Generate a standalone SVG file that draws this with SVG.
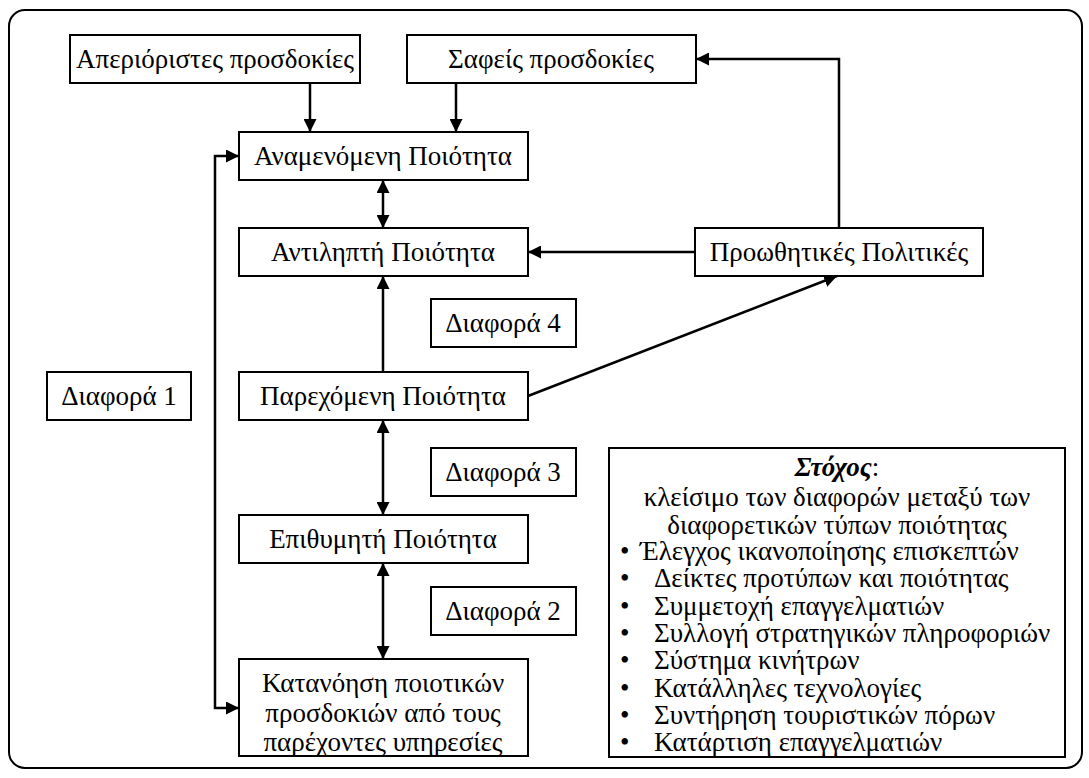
<svg xmlns="http://www.w3.org/2000/svg" width="1089" height="778" viewBox="0 0 1089 778">
<defs>
<marker id="ah" viewBox="0 0 13 13" refX="13" refY="6.5" markerWidth="13" markerHeight="13" markerUnits="userSpaceOnUse" orient="auto-start-reverse">
<path d="M0,0 L13,6.5 L0,13 z" fill="#000"/>
</marker>
<style>
.b{fill:#fff;stroke:#000;stroke-width:2}
.t{font-family:"Liberation Serif","Times New Roman",serif;font-size:27px;fill:#000;text-anchor:middle}
.l{font-family:"Liberation Serif","Times New Roman",serif;font-size:27px;fill:#000}
.c{fill:none;stroke:#000;stroke-width:2.5}
</style>
</defs>
<rect x="0" y="0" width="1089" height="778" fill="#fff"/>
<rect x="9" y="10" width="1073" height="758" rx="16" ry="16" fill="none" stroke="#000" stroke-width="2"/>
<g id="connectors">
<line class="c" x1="310" y1="83" x2="310" y2="132" marker-end="url(#ah)"/>
<line class="c" x1="456" y1="83" x2="456" y2="132" marker-end="url(#ah)"/>
<line class="c" x1="383" y1="180" x2="383" y2="228" marker-start="url(#ah)" marker-end="url(#ah)"/>
<line class="c" x1="383" y1="372" x2="383" y2="276" marker-end="url(#ah)"/>
<line class="c" x1="383" y1="420" x2="383" y2="515" marker-start="url(#ah)" marker-end="url(#ah)"/>
<line class="c" x1="383" y1="563" x2="383" y2="659" marker-start="url(#ah)" marker-end="url(#ah)"/>
<path class="c" d="M239,156 H215 V708 H239" marker-start="url(#ah)" marker-end="url(#ah)"/>
<line class="c" x1="695" y1="252" x2="528" y2="252" marker-end="url(#ah)"/>
<path class="c" d="M839,228 V59 H696" marker-end="url(#ah)"/>
<line class="c" x1="528" y1="396" x2="837" y2="276" marker-end="url(#ah)"/>
</g>
<g id="n-aperioristes"><rect class="b" x="70" y="35" width="290" height="48"/><text class="t" x="215" y="68">Απεριόριστες προσδοκίες</text></g>
<g id="n-safeis"><rect class="b" x="407" y="35" width="289" height="48"/><text class="t" x="551" y="68">Σαφείς προσδοκίες</text></g>
<g id="n-anamenomeni"><rect class="b" x="239" y="132" width="289" height="48"/><text class="t" x="383" y="165">Αναμενόμενη Ποιότητα</text></g>
<g id="n-antilipti"><rect class="b" x="239" y="228" width="289" height="48"/><text class="t" x="383" y="261">Αντιληπτή Ποιότητα</text></g>
<g id="n-proothitikes"><rect class="b" x="695" y="228" width="288" height="48"/><text class="t" x="839" y="261">Προωθητικές Πολιτικές</text></g>
<g id="n-diafora4"><rect class="b" x="431" y="299" width="145" height="48"/><text class="t" x="503" y="332">Διαφορά 4</text></g>
<g id="n-diafora1"><rect class="b" x="47" y="372" width="144" height="48"/><text class="t" x="119" y="405">Διαφορά 1</text></g>
<g id="n-parexomeni"><rect class="b" x="239" y="372" width="289" height="48"/><text class="t" x="383" y="405">Παρεχόμενη Ποιότητα</text></g>
<g id="n-diafora3"><rect class="b" x="431" y="448" width="145" height="48"/><text class="t" x="503" y="481">Διαφορά 3</text></g>
<g id="n-epithymiti"><rect class="b" x="239" y="515" width="289" height="48"/><text class="t" x="383" y="548">Επιθυμητή Ποιότητα</text></g>
<g id="n-diafora2"><rect class="b" x="431" y="587" width="145" height="48"/><text class="t" x="503" y="620">Διαφορά 2</text></g>
<g id="n-katanoisi"><rect class="b" x="239" y="659" width="289" height="97"/>
<text class="t" x="383" y="692">Κατανόηση ποιοτικών</text>
<text class="t" x="383" y="722">προσδοκιών από τους</text>
<text class="t" x="383" y="751">παρέχοντες υπηρεσίες</text></g>
<g id="n-stoxos"><rect class="b" x="609" y="448" width="456" height="309"/>
<text class="t" x="837" y="476"><tspan font-weight="bold" font-style="italic">Στόχος</tspan>:</text>
<text class="t" x="837" y="506">κλείσιμο των διαφορών μεταξύ των</text>
<text class="t" x="837" y="534">διαφορετικών τύπων ποιότητας</text>
<text class="l" x="620" y="560">•</text><text class="l" x="640" y="560">Έλεγχος ικανοποίησης επισκεπτών</text>
<text class="l" x="620" y="587">•</text><text class="l" x="654" y="587">Δείκτες προτύπων και ποιότητας</text>
<text class="l" x="620" y="615">•</text><text class="l" x="654" y="615">Συμμετοχή επαγγελματιών</text>
<text class="l" x="620" y="642">•</text><text class="l" x="654" y="642">Συλλογή στρατηγικών πληροφοριών</text>
<text class="l" x="620" y="669">•</text><text class="l" x="654" y="669">Σύστημα κινήτρων</text>
<text class="l" x="620" y="697">•</text><text class="l" x="654" y="697">Κατάλληλες τεχνολογίες</text>
<text class="l" x="620" y="724">•</text><text class="l" x="654" y="724">Συντήρηση τουριστικών πόρων</text>
<text class="l" x="620" y="751">•</text><text class="l" x="654" y="751">Κατάρτιση επαγγελματιών</text>
</g>
</svg>
